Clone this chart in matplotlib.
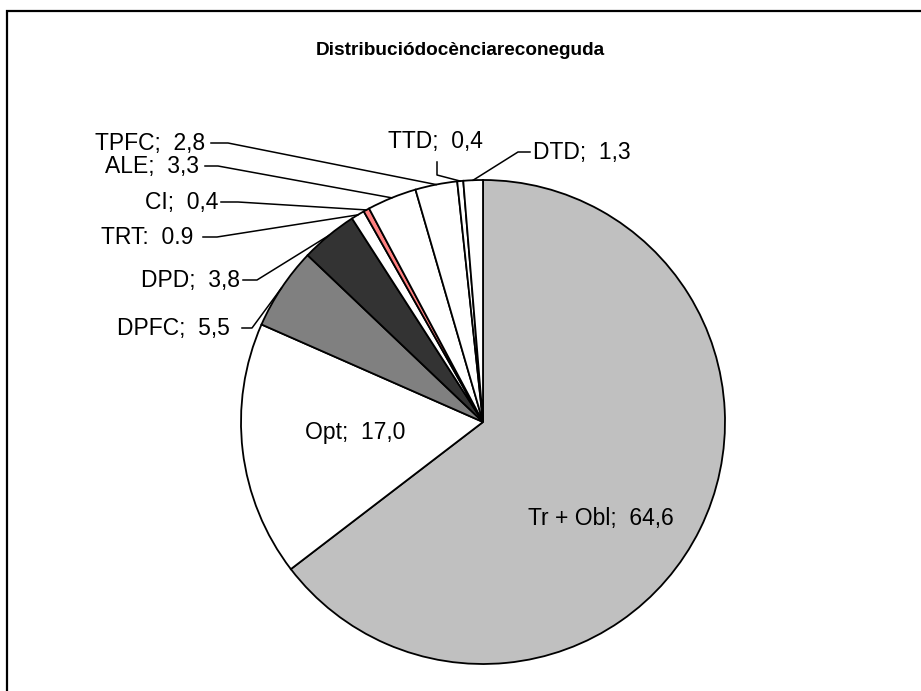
import matplotlib.pyplot as plt
from matplotlib.patches import Rectangle
import numpy as np

plt.rcParams["font.family"] = ["Liberation Sans", "DejaVu Sans"]

# data
categories = ["Tr + Obl", "Opt", "DPFC", "DPD", "TRT", "CI", "ALE", "TPFC", "TTD", "DTD"]
values = [64.6, 17.0, 5.5, 3.8, 0.9, 0.4, 3.3, 2.8, 0.4, 1.3]
value_labels = ["64,6", "17,0", "5,5", "3,8", "0.9", "0,4", "3,3", "2,8", "0,4", "1,3"]
separators = [";", ";", ";", ";", ":", ";", ";", ";", ";", ";"]
colors = ["#c0c0c0", "white", "#808080", "#333333", "white", "#ff8080",
          "white", "white", "white", "white"]
title = "Distribuciódocènciareconeguda"

W, H = 921, 691
CX, CY, R = 483, 422, 242   # pie centre / radius in pixels (y down)
fs = 16.5

fig = plt.figure(figsize=(W / 100, H / 100), dpi=100)
ax = fig.add_axes([0, 0, 1, 1])


def p(x, y):
    return x, H - y


wedges, _ = ax.pie(values, colors=colors, startangle=90, counterclock=False,
                   center=p(CX, CY), radius=R, frame=True,
                   wedgeprops=dict(edgecolor="black", linewidth=1.3))
ax.set_xlim(0, W)
ax.set_ylim(0, H)
ax.axis("off")

# outer chart frame (open to the right and bottom, like the source)
ax.add_patch(Rectangle(p(7, 700), 1000, 689, fill=False, lw=1.6, ec="black"))

ax.text(W / 2, H - 50, title, ha="center", va="center",
        fontsize=13.7, fontweight="bold")

# label layout: text anchor, alignment, leader points before the wedge edge
outside = {
    "TPFC": ((205, 143), "right", [(211, 143), (228, 143)]),
    "ALE": ((199, 166), "right", [(205, 166), (218, 166)]),
    "CI": ((218, 202), "right", [(221, 202), (238, 202)]),
    "TRT": ((193, 237), "right", [(203, 237), (217, 237)]),
    "DPD": ((240, 280), "right", [(243, 280), (257, 280)]),
    "DPFC": ((230, 328), "right", [(242, 328), (252, 328)]),
    "TTD": ((435, 141), "center", [(437, 162), (437, 175)]),
    "DTD": ((533, 152), "left", [(530, 152), (518, 152)]),
}
inside = {"Tr + Obl": (601, 518), "Opt": (355, 432)}

for w, name, val, sep in zip(wedges, categories, value_labels, separators):
    txt = f"{name}{sep}  {val}"
    mid = np.deg2rad((w.theta1 + w.theta2) / 2)
    ex = w.center[0] + w.r * np.cos(mid)
    ey = w.center[1] + w.r * np.sin(mid)
    if name in inside:
        ax.text(*p(*inside[name]), txt, ha="center", va="center", fontsize=fs)
        continue
    (tx, ty), ha, pts = outside[name]
    ax.text(*p(tx, ty), txt, ha=ha, va="center", fontsize=fs)
    xs = [q[0] for q in pts] + [ex]
    ys = [H - q[1] for q in pts] + [ey]
    ax.plot(xs, ys, color="black", lw=1.1)

fig.savefig("out.png", dpi=100)
